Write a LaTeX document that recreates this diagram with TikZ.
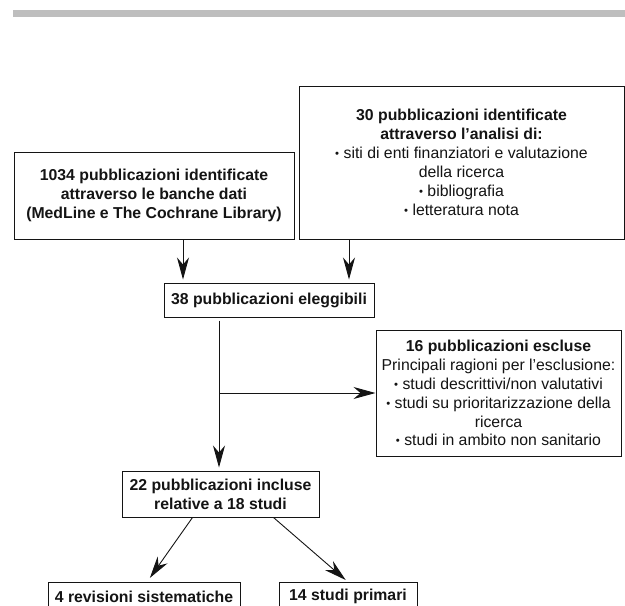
\documentclass[tikz,border=0pt]{standalone}
\usepackage{fontspec}
\setmainfont{Liberation Sans}
\usepackage{tikz}
\usetikzlibrary{arrows.meta,positioning,calc}
\definecolor{prInk}{HTML}{141414}
\definecolor{prBar}{HTML}{BEBEBE}
\newcommand{\prfont}{\fontsize{15.8}{18.9}\selectfont}
\newcommand{\prbul}{\raisebox{0.12ex}{\scalebox{0.72}{\textbullet}}\ }
\tikzset{
  % Flow box (regular text)
  pubbox/.style={rectangle,draw=prInk,line width=1pt,fill=white,
    align=center,inner sep=3pt,font=\prfont,text=prInk},
  % Flow box (bold text only)
  hbox/.style={pubbox,font=\prfont\bfseries},
  % Arrows
  arr/.style={-{Stealth[length=22pt,width=12pt,inset=7pt]},
    line width=0.9pt,draw=prInk},
}

\begin{document}
\begin{tikzpicture}[x=1pt,y=-1pt]
  \useasboundingbox (0,0) rectangle (625,606);

  % Top rule
  \fill[prBar] (13,10) rectangle (625,17);

  % Sources
  \node[hbox,minimum width=280pt,minimum height=87pt] (search) at (154,195.5)
    {1034 pubblicazioni identificate\\attraverso le banche dati\\(MedLine e The Cochrane Library)};
  \node[pubbox,minimum width=325pt,minimum height=153pt] (other) at (461.5,162.5)
    {\textbf{30 pubblicazioni identificate}\\\textbf{attraverso l’analisi di:}\\
     \prbul siti di enti finanziatori e valutazione\\della ricerca\\
     \prbul bibliografia\\\prbul letteratura nota};

  % Eligible
  \node[hbox,minimum width=210pt,minimum height=34pt] (elig) at (269,300)
    {38 pubblicazioni eleggibili};

  % Excluded
  \node[pubbox,minimum width=245pt,minimum height=126pt] (excl) at (498.5,393)
    {\textbf{16 pubblicazioni escluse}\\Principali ragioni per l’esclusione:\\
     \prbul studi descrittivi/non valutativi\\\prbul studi su prioritarizzazione della\\
     ricerca\\\prbul studi in ambito non sanitario};

  % Included
  \node[hbox,minimum width=197pt,minimum height=46pt] (incl) at (220.5,494)
    {22 pubblicazioni incluse\\relative a 18 studi};
  \node[hbox,minimum width=192pt,minimum height=28pt,anchor=north] (rev) at (144,582)
    {4 revisioni sistematiche};
  \node[hbox,minimum width=138pt,minimum height=28pt,anchor=north] (prim) at (348,582)
    {14 studi primari};

  % Connectors
  \coordinate (inA) at ([xshift=29pt]search.south);
  \coordinate (inB) at ([xshift=-112.5pt]other.south);
  \coordinate (outE) at ([xshift=-50pt]elig.south);
  \draw[arr,shorten >=3pt] (inA) -- (inA |- elig.north);
  \draw[arr,shorten >=3pt] (inB) -- (inB |- elig.north);
  \draw[arr,shorten <=3pt,shorten >=3pt] (outE) -- (outE |- incl.north);
  \draw[arr] (outE |- excl.west) -- (excl.west);
  \draw[arr,shorten >=5pt] ([xshift=-28pt]incl.south) -- ([xshift=3pt]rev.north);
  \draw[arr,shorten >=3pt] ([xshift=53pt]incl.south) -- (prim.north);
\end{tikzpicture}
\end{document}
